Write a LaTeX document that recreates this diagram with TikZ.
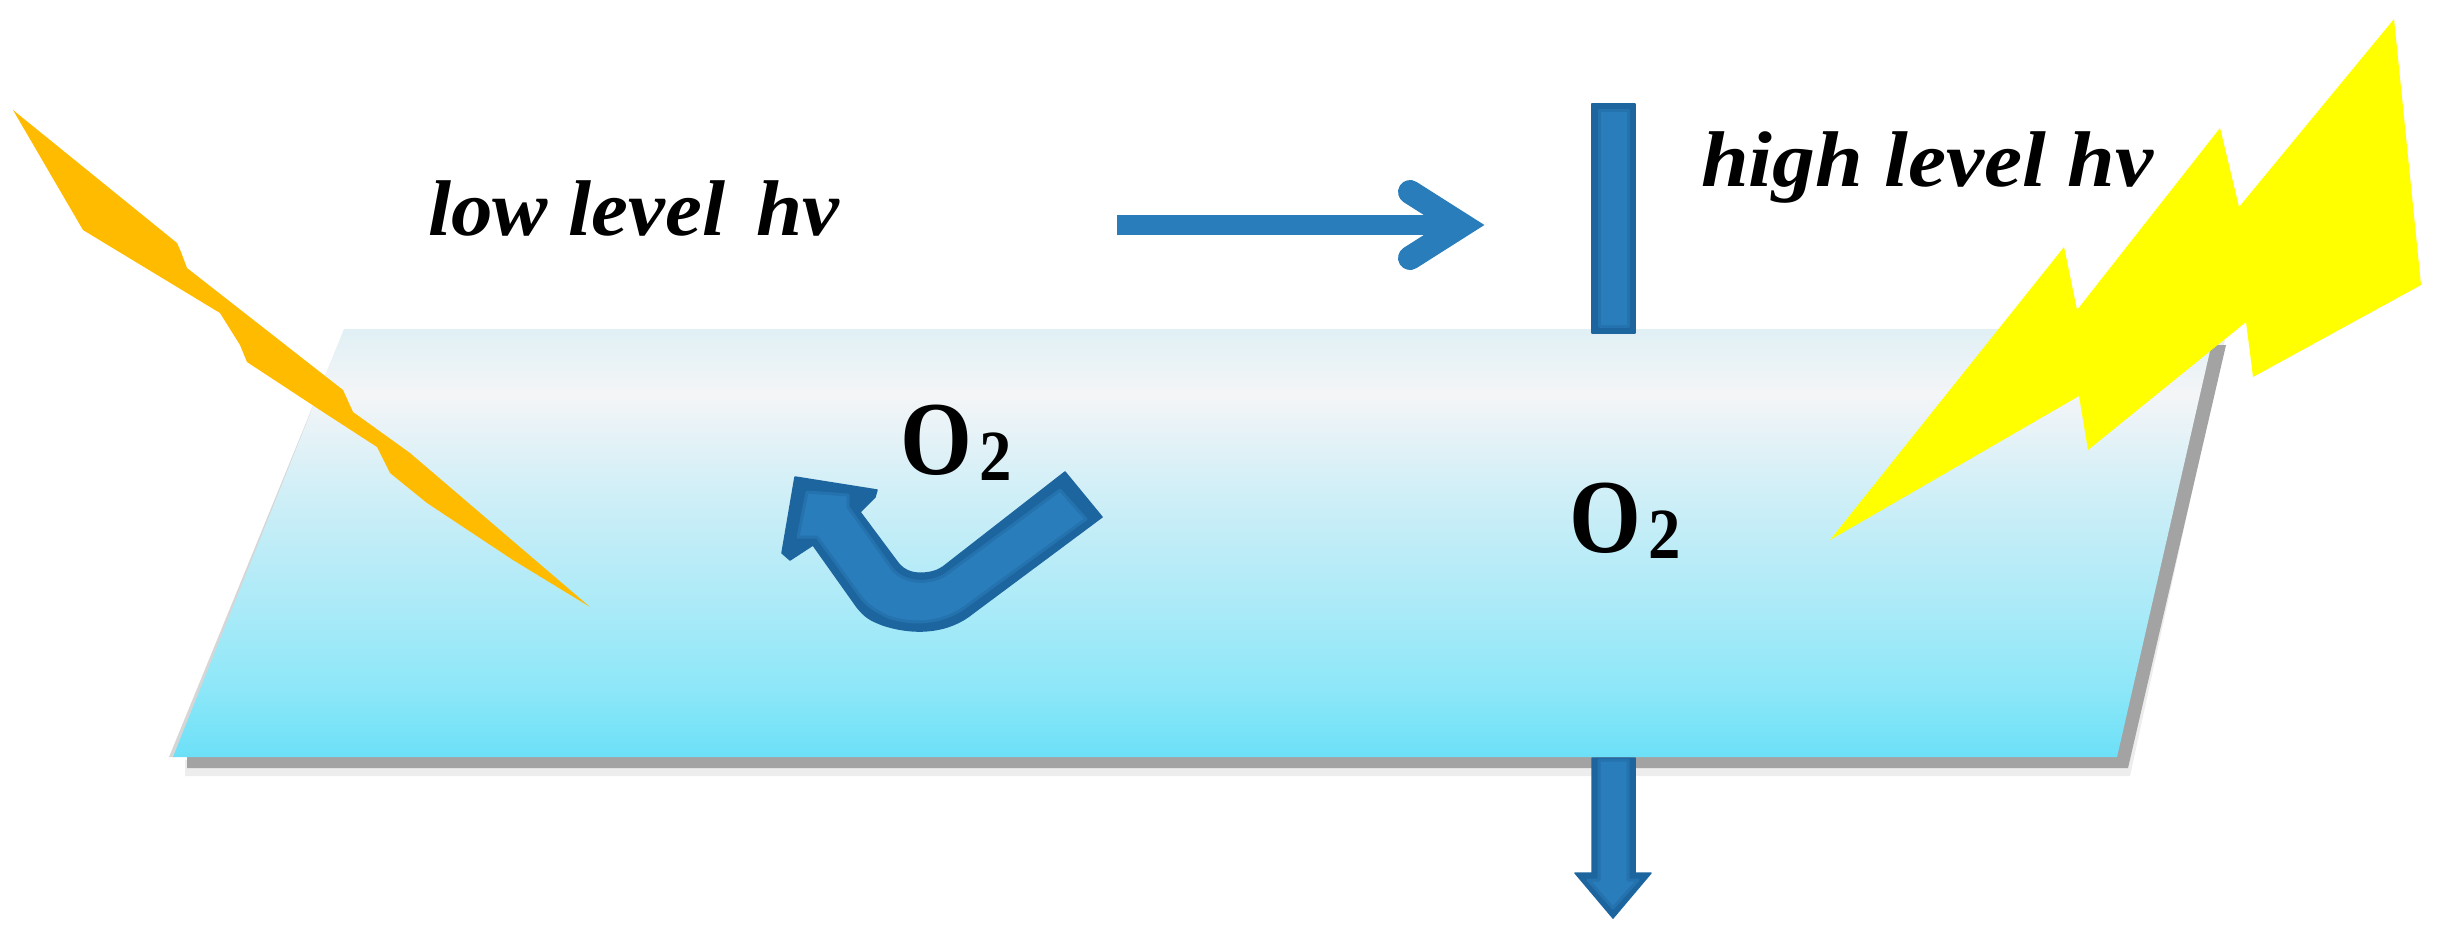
\documentclass[tikz,border=0pt]{standalone}
\usepackage{fontspec}
\setmainfont{Liberation Serif}
\definecolor{f0}{HTML}{E0F0F5}
\definecolor{f1}{HTML}{F4F5F7}
\definecolor{f2}{HTML}{D8F0F7}
\definecolor{f3}{HTML}{BCECF7}
\definecolor{f4}{HTML}{AAEAF8}
\definecolor{f5}{HTML}{8CE7F8}
\definecolor{f6}{HTML}{6CE0F8}
\pgfdeclareverticalshading{filmfade}{100bp}{
 color(0bp)=(f6);
 color(25bp)=(f6);
 color(32.8bp)=(f5);
 color(42.2bp)=(f4);
 color(49.2bp)=(f3);
 color(58.5bp)=(f2);
 color(67.3bp)=(f1);
 color(75bp)=(f0);
 color(100bp)=(f0)}
\definecolor{arrowblue}{HTML}{2A7DBB}
\definecolor{arrowmid}{HTML}{2472AE}
\definecolor{arrowedge}{HTML}{1D659F}
\definecolor{boltorange}{HTML}{FFBB00}
\definecolor{boltyellow}{HTML}{FFFF00}
\newcommand{\oxytext}{\scalebox{0.88}[1]{O}\hspace{8pt}\raisebox{-6pt}{\scalebox{0.9}[1]{\fontsize{72}{72}\selectfont 2}}}
\tikzset{
 lbl/.style={inner sep=0pt,outer sep=0pt,font=\fontsize{79}{79}\selectfont\bfseries\itshape,anchor=base west},
 oxy/.style={inner sep=0pt,outer sep=0pt,font=\fontsize{105}{105}\selectfont\bfseries,anchor=base west},
 edge shape/.style={fill=arrowedge,draw=arrowedge,line width=1.5pt,line join=round},
 core shape/.style={fill=arrowblue,draw=arrowmid,line width=3pt,line join=round},
}
\begin{document}
\begin{tikzpicture}[x=1pt,y=-1pt]
\useasboundingbox (0,0) rectangle (2440,939);
% shadow
\fill[black!7] (2225,340) -- (2130,776) -- (185,776) -- (185,760) -- cycle;
\fill[black!36] (2215,345) -- (2226,345) -- (2128,768) -- (187,768) -- (187,755) -- cycle;
\fill[black!16] (342,335) -- (169,757) -- (175,757) -- (346,335) -- cycle;
% film
\path[shading=filmfade] (344,329) -- (2215,329) -- (2117,757) -- (173,757) -- cycle;
% upper bar
\path[edge shape] (1592,104) rectangle (1635,333);
\path[core shape] (1599,111) rectangle (1628,326);
% horizontal arrow
\coordinate (harrowA) at (1117,225);
\coordinate (harrowB) at (1462,225);
\coordinate (barbU) at (1410,192);
\coordinate (barbL) at (1410,258);
\draw[arrowblue,line width=20pt] (harrowA) -- (harrowB);
\draw[arrowblue,line width=24pt,line join=miter,miter limit=10,line cap=round] (barbU) -- (harrowB) -- (barbL);
% lower arrow
\path[edge shape] (1592,758) -- (1635,758) -- (1635,873) -- (1651,873) -- (1613,918) -- (1575,873) -- (1592,873) -- cycle;
\path[core shape] (1599,760) -- (1628,760) -- (1628,880) -- (1638,880) -- (1613,908) -- (1588,880) -- (1599,880) -- cycle;
% curved arrow
\path[edge shape] (795,477) -- (877,490) -- (875,497) -- (860,512) -- (898,563) .. controls (905,572) and (915,574) .. (925,573)
 .. controls (935,572) and (938,570) .. (943,567) -- (1065,472) -- (1102,517) -- (973,613)
 .. controls (950,632) and (917,636) .. (883,625) .. controls (870,620) and (865,617) .. (857,607)
 -- (813,545) -- (790,560) -- (782,553) -- cycle;
\path[core shape] (807,492) -- (848,495) -- (848,507) -- (893,570) .. controls (905,583) and (928,585) .. (945,575)
 -- (1060,490) -- (1086,519) -- (968,605) .. controls (945,623) and (915,626) .. (888,617) .. controls (875,610) and (868,607) .. (860,596)
 -- (817,537) -- (798,537) -- cycle;
% bolts
\fill[boltorange] (13,110) -- (177,243) -- (181,252) -- (187,268) -- (343,390) -- (353,412) -- (410,453) -- (590,607)
 -- (513,560) -- (427,503) -- (390,473) -- (377,447) -- (320,410) -- (247,362) -- (240,345) -- (220,313) -- (83,230) -- cycle;
\fill[boltyellow] (2394,19) -- (2421,285) -- (2253,377) -- (2246,322) -- (2088,450) -- (2079,396) -- (1830,540)
 -- (2064,247) -- (2077,310) -- (2220,128) -- (2239,207) -- cycle;
% text
\node[lbl] (low) at (428,235) {\scalebox{1.05}[1]{low level\hspace{10pt} hv}};
\node[lbl] (high) at (1701,186) {\scalebox{1.085}[1]{high level hv}};
\node[oxy] (oa) at (900,474) {\oxytext};
\node[oxy] (ob) at (1569,552) {\oxytext};
\end{tikzpicture}
\end{document}
